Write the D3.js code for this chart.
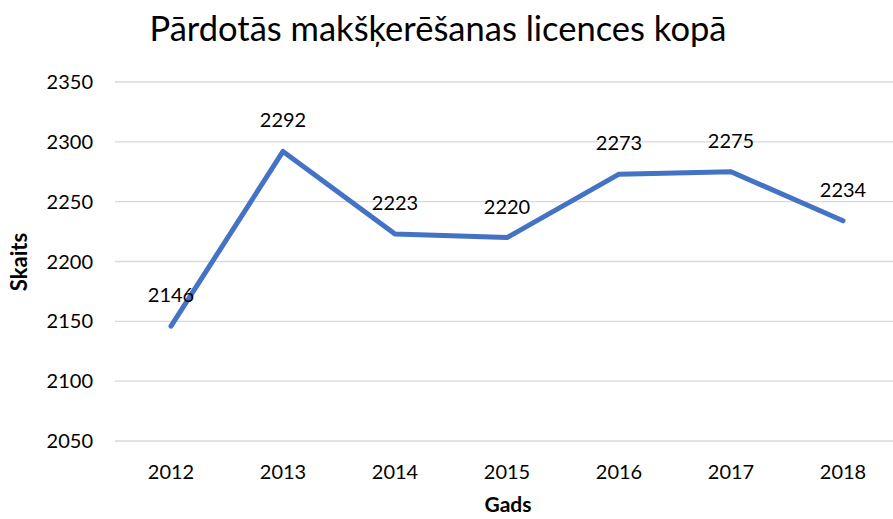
<!DOCTYPE html>
<html>
<head>
<meta charset="utf-8">
<script src="https://cdn.jsdelivr.net/npm/d3@7"></script>
<style>
  body { margin: 0; background: #fff; }
  svg { font-family: Lato, "Open Sans", sans-serif; }
</style>
</head>
<body>
<div id="chart"></div>
<script>
var years = ["2012", "2013", "2014", "2015", "2016", "2017", "2018"];
var licences = [2146, 2292, 2223, 2220, 2273, 2275, 2234];
var yTicks = [2050, 2100, 2150, 2200, 2250, 2300, 2350];

var W = 893, H = 519;
var margin = {top: 82, right: -6, bottom: 78, left: 115},
    width = W - margin.left - margin.right,
    height = H - margin.top - margin.bottom;

var svg = d3.select("#chart").append("svg")
    .attr("width", W)
    .attr("height", H);

var g = svg.append("g")
    .attr("transform", "translate(" + margin.left + "," + margin.top + ")");

var x = d3.scaleBand().domain(years).range([0, width]);
var y = d3.scaleLinear().domain([2050, 2350]).range([height, 0]);

// gridlines
g.selectAll(".grid")
    .data(yTicks)
    .enter().append("line")
    .attr("x1", 0).attr("x2", width)
    .attr("y1", function(d) { return y(d); })
    .attr("y2", function(d) { return y(d); })
    .attr("stroke", "#d9d9d9")
    .attr("stroke-width", 1.3);

// y tick labels
g.selectAll(".ytick")
    .data(yTicks)
    .enter().append("text")
    .attr("x", -22)
    .attr("y", function(d) { return y(d); })
    .attr("dy", "0.35em")
    .attr("text-anchor", "end")
    .attr("font-size", 20)
    .attr("fill", "#000")
    .text(function(d) { return d; });

// x tick labels
g.selectAll(".xtick")
    .data(years)
    .enter().append("text")
    .attr("x", function(d) { return x(d) + x.bandwidth() / 2; })
    .attr("y", height + 38)
    .attr("text-anchor", "middle")
    .attr("font-size", 20)
    .attr("fill", "#000")
    .text(function(d) { return d; });

// the line
var line = d3.line()
    .x(function(d, i) { return x(years[i]) + x.bandwidth() / 2; })
    .y(function(d) { return y(d); });

g.append("path")
    .datum(licences)
    .attr("fill", "none")
    .attr("stroke", "#4472C4")
    .attr("stroke-width", 5)
    .attr("stroke-linecap", "round")
    .attr("stroke-linejoin", "round")
    .attr("d", line);

// data labels
g.selectAll(".label")
    .data(licences)
    .enter().append("text")
    .attr("x", function(d, i) { return x(years[i]) + x.bandwidth() / 2; })
    .attr("y", function(d) { return y(d) - 31; })
    .attr("dy", "0.35em")
    .attr("text-anchor", "middle")
    .attr("font-size", 20)
    .attr("fill", "#000")
    .text(function(d) { return d; });

// title
svg.append("text")
    .attr("x", 438)
    .attr("y", 41)
    .attr("text-anchor", "middle")
    .attr("font-size", 34.5)
    .attr("fill", "#000")
    .text("Pārdotās makšķerēšanas licences kopā");

// axis titles
svg.append("text")
    .attr("x", 508)
    .attr("y", 512)
    .attr("text-anchor", "middle")
    .attr("font-size", 21)
    .attr("font-weight", "bold")
    .text("Gads");

svg.append("text")
    .attr("transform", "translate(27,262) rotate(-90)")
    .attr("text-anchor", "middle")
    .attr("font-size", 22)
    .attr("font-weight", "bold")
    .text("Skaits");
</script>
</body>
</html>
